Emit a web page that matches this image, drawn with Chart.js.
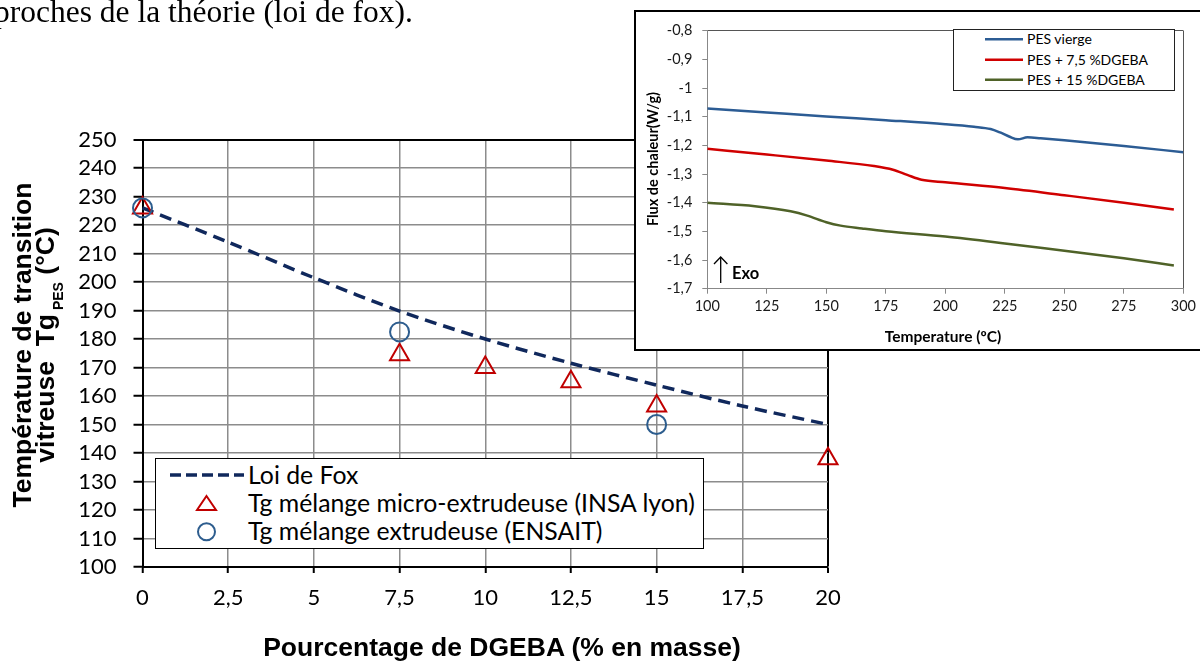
<!DOCTYPE html>
<html><head><meta charset="utf-8">
<script src="https://cdn.jsdelivr.net/npm/chart.js@4.4.0/dist/chart.umd.min.js"></script>
<style>
html,body{margin:0;padding:0;background:#fff;overflow:hidden;width:1200px;height:662px;}
#wrap{position:relative;width:1200px;height:662px;overflow:hidden;background:#fff;}
.abs{position:absolute;white-space:nowrap;}
#main{position:absolute;left:0;top:0;z-index:1;}
#para{left:-6px;top:-4px;font-family:"Liberation Serif","Times New Roman",serif;font-size:31.5px;line-height:31px;color:#000;z-index:2;}
#xtitle{left:502px;top:632px;transform:translateX(-50%);font:bold 26.5px "Liberation Sans",Arial,sans-serif;line-height:30px;color:#000;z-index:2;}
#ytitle{left:-164px;top:320px;width:400px;height:50px;transform:rotate(-90deg);text-align:center;font:bold 26.5px "Liberation Sans",Arial,sans-serif;line-height:23.3px;color:#000;z-index:2;}
#ytitle .sub{font-size:14px;position:relative;top:9px;}
#leg{left:155px;top:458px;width:549px;height:91px;box-sizing:border-box;border:1.5px solid #000;background:#fff;z-index:3;}
.lt{font-family:Lato,sans-serif;font-size:24.8px;color:#000;line-height:28px;}
#insetbox{left:634px;top:10px;width:600px;height:341px;box-sizing:border-box;border:2px solid #000;background:#fff;z-index:4;}
#inset{position:absolute;left:636px;top:12px;z-index:5;}
#ileg{left:953px;top:29px;width:222px;height:62px;box-sizing:border-box;border:1.5px solid #222;background:#fff;z-index:6;}
.ilt{font-family:Lato,sans-serif;font-size:14px;color:#000;line-height:18px;z-index:7;}
#iy{left:583px;top:149px;width:140px;height:20px;transform:rotate(-90deg);text-align:center;font:bold 14.5px Lato,sans-serif;line-height:20px;color:#000;z-index:7;}
#ix{left:943px;top:326px;transform:translateX(-50%);font:bold 15.5px Lato,sans-serif;line-height:20px;color:#000;z-index:7;}
#exo{left:732px;top:262px;font:bold 16.5px Lato,sans-serif;line-height:22px;color:#000;z-index:7;}
svg.abs{overflow:visible;}
</style>
</head>
<body>
<div id="wrap">
<canvas id="main" width="1200" height="662"></canvas>
<div id="para" class="abs">proches de la théorie (loi de fox).</div>
<div id="xtitle" class="abs">Pourcentage de DGEBA (% en masse)</div>
<div id="ytitle" class="abs">Température de transition<br>vitreuse&nbsp; Tg<span class="sub"> PES</span> (°C)</div>

<div id="leg" class="abs"></div>
<svg class="abs" style="left:0;top:0;z-index:4" width="1" height="1">
  <line x1="170" y1="475" x2="244" y2="475" stroke="#10285C" stroke-width="3.5" stroke-dasharray="11,5"/>
  <polygon points="206.5,496 216,510 197,510" fill="none" stroke="#C00000" stroke-width="2"/>
  <circle cx="206.5" cy="531.7" r="8.5" fill="none" stroke="#2D5D8E" stroke-width="2"/>
</svg>
<div class="abs lt" style="left:248px;top:460.5px;z-index:4">Loi de Fox</div>
<div class="abs lt" style="left:248px;top:488.5px;z-index:4">Tg mélange micro-extrudeuse (INSA lyon)</div>
<div class="abs lt" style="left:248px;top:517px;z-index:4">Tg mélange extrudeuse (ENSAIT)</div>

<div id="insetbox" class="abs"></div>
<canvas id="inset" width="564" height="336"></canvas>
<div id="ileg" class="abs"></div>
<svg class="abs" style="left:0;top:0;z-index:7" width="1" height="1">
  <line x1="985" y1="39.3" x2="1023" y2="39.3" stroke="#2C5C94" stroke-width="2.5"/>
  <line x1="985" y1="59.7" x2="1023" y2="59.7" stroke="#D00000" stroke-width="2.5"/>
  <line x1="985" y1="79.7" x2="1023" y2="79.7" stroke="#4F6228" stroke-width="2.5"/>
  <line x1="720.7" y1="257" x2="720.7" y2="283" stroke="#000" stroke-width="1.3"/>
  <polyline points="714,264 720.7,257 727.4,264" fill="none" stroke="#000" stroke-width="1.3"/>
</svg>
<div class="abs ilt" style="left:1027px;top:30px">PES vierge</div>
<div class="abs ilt" style="left:1027px;top:50.5px">PES + 7,5 %DGEBA</div>
<div class="abs ilt" style="left:1027px;top:70.5px">PES + 15 %DGEBA</div>
<div id="iy" class="abs">Flux de chaleur(W/g)</div>
<div id="ix" class="abs">Temperature (ºC)</div>
<div id="exo" class="abs">Exo</div>
</div>

<script>
// ---- Main chart data ----
const dgebaPct = [0, 2.5, 5, 7.5, 10, 12.5, 15, 17.5, 20];
const tgFox = [226, 214, 201.5, 189.8, 180, 171.5, 163.8, 156.5, 150];
const insaPct = [0, 7.5, 10, 12.5, 15, 20];
const tgInsa = [226, 174.5, 170, 165, 156.5, 138];
const ensaitPct = [0, 7.5, 15];
const tgEnsait = [226, 182.5, 150];

// ---- Inset (DSC curves) data ----
const tempVierge = [100, 125, 150, 175, 200, 212, 219, 223, 227, 230.5, 234.5, 240, 250, 275, 300];
const fluxVierge = [-1.071, -1.085, -1.099, -1.112, -1.126, -1.135, -1.143, -1.155, -1.170, -1.179, -1.172, -1.175, -1.182, -1.202, -1.224];
const temp75 = [100, 125, 150, 170, 178, 184, 190, 200, 225, 250, 275, 296];
const flux75 = [-1.212, -1.232, -1.253, -1.272, -1.285, -1.303, -1.320, -1.329, -1.349, -1.374, -1.400, -1.424];
const temp15 = [100, 120, 135, 142, 150, 156, 165, 175, 200, 225, 250, 275, 296];
const flux15 = [-1.400, -1.412, -1.430, -1.445, -1.468, -1.480, -1.490, -1.500, -1.518, -1.542, -1.568, -1.594, -1.619];

const zip = (xs, ys) => xs.map((x, i) => ({x: x, y: ys[i]}));
const fmt = v => (Math.round(v * 100) / 100).toString().replace('.', ',');

new Chart(document.getElementById('main'), {
  type: 'line',
  data: { datasets: [
    { label: 'Tg mélange extrudeuse (ENSAIT)', data: zip(ensaitPct, tgEnsait), showLine: false,
      pointStyle: 'circle', pointRadius: 9.5, pointBorderWidth: 2, borderColor: '#2D5D8E',
      backgroundColor: 'rgba(0,0,0,0)', clip: false },
    { label: 'Tg mélange micro-extrudeuse (INSA lyon)', data: zip(insaPct, tgInsa), showLine: false,
      pointStyle: 'triangle', pointRadius: 11, pointBorderWidth: 2, borderColor: '#C00000',
      backgroundColor: 'rgba(0,0,0,0)', clip: false },
    { label: 'Loi de Fox', data: zip(dgebaPct, tgFox), borderColor: '#10285C', borderWidth: 3.5,
      borderDash: [12, 7], pointRadius: 0, tension: 0.3, fill: false, clip: false }
  ]},
  options: {
    responsive: false, animation: false, devicePixelRatio: 1,
    layout: { padding: { left: 0, top: 139.5, right: 372, bottom: 0 } },
    plugins: { legend: { display: false }, tooltip: { enabled: false } },
    scales: {
      x: { type: 'linear', min: 0, max: 20,
        afterFit: s => { s.height = 95; },
        ticks: { stepSize: 2.5, callback: fmt, font: { family: 'Lato', size: 22 }, color: '#000', padding: 12, maxRotation: 0, autoSkip: false },
        grid: { color: c => (c.tick && c.tick.value === 20) ? '#000' : '#8c8c8c',
                lineWidth: c => (c.tick && c.tick.value === 20) ? 2 : 1.5,
                tickColor: '#000', tickLength: 6, tickWidth: 2 },
        border: { color: '#000', width: 2 } },
      y: { min: 100, max: 250,
        afterFit: s => { s.width = 142.5; },
        ticks: { stepSize: 10, font: { family: 'Lato', size: 22 }, color: '#000', padding: 17, autoSkip: false },
        grid: { color: c => (c.tick && c.tick.value === 250) ? '#000' : '#8c8c8c',
                lineWidth: c => (c.tick && c.tick.value === 250) ? 2 : 1.5,
                tickColor: '#000', tickLength: 9, tickWidth: 2 },
        border: { color: '#000', width: 2 } }
    }
  }
});

new Chart(document.getElementById('inset'), {
  type: 'line',
  data: { datasets: [
    { label: 'PES vierge', data: zip(tempVierge, fluxVierge), borderColor: '#2C5C94', borderWidth: 2.5, pointRadius: 0, cubicInterpolationMode: 'monotone' },
    { label: 'PES + 7,5 %DGEBA', data: zip(temp75, flux75), borderColor: '#D00000', borderWidth: 2.5, pointRadius: 0, cubicInterpolationMode: 'monotone' },
    { label: 'PES + 15 %DGEBA', data: zip(temp15, flux15), borderColor: '#4F6228', borderWidth: 2.5, pointRadius: 0, cubicInterpolationMode: 'monotone' }
  ]},
  options: {
    responsive: false, animation: false, devicePixelRatio: 1,
    layout: { padding: { left: 0, top: 13, right: 15.7, bottom: 0 } },
    plugins: { legend: { display: false }, tooltip: { enabled: false } },
    scales: {
      x: { type: 'linear', min: 100, max: 300,
        afterFit: s => { s.height = 59.3; },
        ticks: { stepSize: 25, font: { family: 'Lato', size: 14.5 }, color: '#1a1a1a', padding: 4, maxRotation: 0, autoSkip: false },
        grid: { color: c => (c.tick && c.tick.value === 300) ? '#555' : 'rgba(0,0,0,0)', lineWidth: 1,
                tickColor: '#888', tickLength: 5, tickWidth: 1 },
        border: { color: '#888', width: 1 } },
      y: { min: -1.7, max: -0.8,
        afterFit: s => { s.width = 71.3; },
        ticks: { stepSize: 0.1, callback: v => fmt(Math.round(v * 10) / 10), font: { family: 'Lato', size: 14.5 }, color: '#1a1a1a', padding: 10, autoSkip: false },
        grid: { color: c => (c.tick && c.tick.value > -0.85) ? '#555' : 'rgba(0,0,0,0)', lineWidth: 1,
                tickColor: '#888', tickLength: 5, tickWidth: 1 },
        border: { color: '#888', width: 1 } }
    }
  }
});
</script>
</body></html>
